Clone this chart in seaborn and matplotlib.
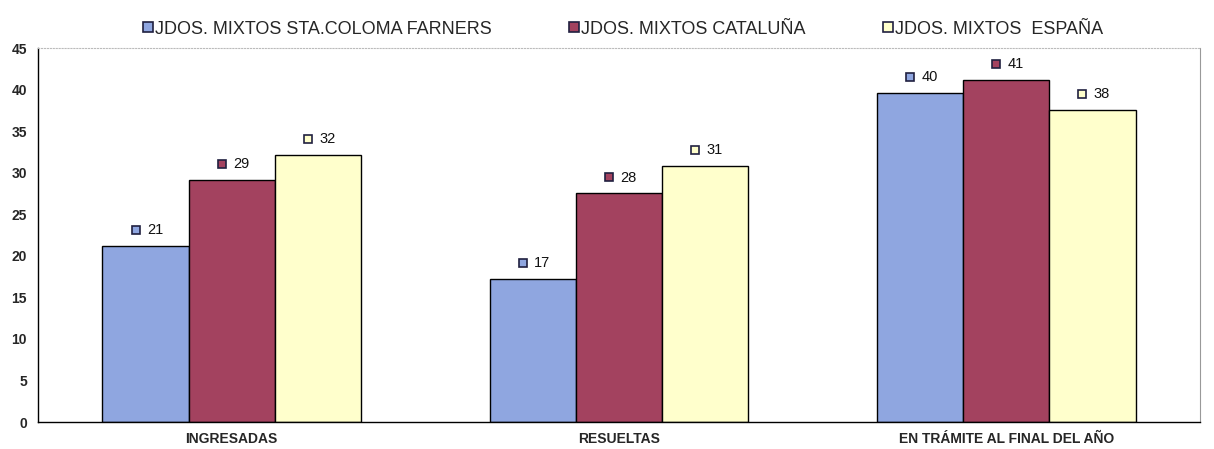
import numpy as np
import pandas as pd
import matplotlib.pyplot as plt
import seaborn as sns
from matplotlib.transforms import ScaledTranslation
from matplotlib.lines import Line2D

# datos del gráfico
categorias = ['INGRESADAS', 'RESUELTAS', 'EN TRÁMITE AL FINAL DEL AÑO']
series = ['JDOS. MIXTOS STA.COLOMA FARNERS', 'JDOS. MIXTOS CATALUÑA', 'JDOS. MIXTOS  ESPAÑA']
sta_coloma = [21.2, 17.2, 39.6]
cataluna = [29.1, 27.5, 41.1]
espana = [32.1, 30.8, 37.6]
etiquetas = [[21, 17, 40], [29, 28, 41], [32, 31, 38]]
colores = ['#8FA6E0', '#A3425F', '#FFFFCC']

df = pd.DataFrame({
    'categoria': categorias * 3,
    'serie': [series[0]] * 3 + [series[1]] * 3 + [series[2]] * 3,
    'valor': sta_coloma + cataluna + espana,
})

sns.set_style('white')
plt.rcParams['font.family'] = ['Liberation Sans', 'DejaVu Sans']

fig = plt.figure(figsize=(12.14, 4.49), dpi=100)
ax = fig.add_axes([0.0313, 0.0601, 0.9572, 0.8329])

sns.barplot(data=df, x='categoria', y='valor', hue='serie', palette=colores,
            edgecolor='black', linewidth=1, width=0.667, saturation=1,
            ax=ax, legend=False)

# etiquetas con marcador cuadrado
for i, cont in enumerate(ax.containers):
    for j, bar in enumerate(cont):
        xc = bar.get_x() + bar.get_width() / 2
        h = bar.get_height()
        off_m = ScaledTranslation(-10 / 100, 16 / 100, fig.dpi_scale_trans)
        ax.plot([xc], [h], marker='s', markersize=5.5, markerfacecolor=colores[i],
                markeredgecolor='#202040', markeredgewidth=1.2,
                transform=ax.transData + off_m, clip_on=False)
        ax.annotate(str(etiquetas[i][j]), (xc, h), xytext=(1, 11.5),
                    textcoords='offset points', ha='left', va='center',
                    fontsize=10.5, color='#111111')

ax.set_ylim(0, 45)
ax.set_yticks(range(0, 46, 5))
ax.set_xlim(-0.5, 2.5)
ax.set_xlabel('')
ax.set_ylabel('')
ax.set_xticks([0, 1, 2])
ax.set_xticklabels(categorias, fontsize=10, fontweight='bold')
ax.tick_params(axis='x', length=0, pad=7)
ax.set_xticks([0.5, 1.5], minor=True)
ax.tick_params(axis='x', which='minor', length=4, direction='out', width=0.8)
ax.tick_params(axis='y', length=4, direction='out', width=0.8, labelsize=10, pad=4)
for lab in ax.get_yticklabels():
    lab.set_fontweight('bold')

for s in ['left', 'bottom']:
    ax.spines[s].set_color('black')
    ax.spines[s].set_linewidth(1)
ax.spines['top'].set_color('#bbbbbb')
ax.spines['top'].set_linestyle(':')
ax.spines['top'].set_linewidth(0.8)
ax.spines['right'].set_color('#999999')
ax.spines['right'].set_linewidth(0.8)

handles = [Line2D([], [], linestyle='none', marker='s', markersize=6.5,
                  markerfacecolor=c, markeredgecolor='#202040', markeredgewidth=1.2)
           for c in colores]
fig.legend(handles, series, loc='upper center', bbox_to_anchor=(0.513, 0.99),
           ncol=3, frameon=False, fontsize=13, handlelength=0.6,
           handletextpad=0.1, columnspacing=4.25)

plt.savefig('out.png', dpi=100)
